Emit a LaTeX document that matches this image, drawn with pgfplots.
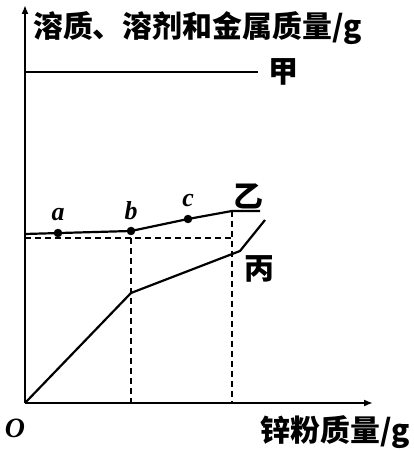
\documentclass[border=0pt]{standalone}
\usepackage{fontspec}
\usepackage{pgfplots}
\pgfplotsset{compat=1.18}
\usetikzlibrary{arrows.meta}
\setmainfont{Liberation Serif}
\newfontfamily\cjk{Noto Sans CJK SC}

\begin{document}
\begin{tikzpicture}[x=1bp,y=1bp]
  \useasboundingbox (-25,-48) rectangle (388,403);
  \begin{axis}[
    x=1bp, y=1bp,
    anchor=origin, at={(0,0)},
    xmin=0, xmax=348, ymin=0, ymax=398,
    axis lines=left,
    axis line style={line width=2bp, -{Latex[length=9bp,width=7bp]}},
    xtick=\empty, ytick=\empty,
    clip=false,
  ]
    % 甲
    \addplot[black, line width=2.2bp] coordinates {(0,331) (233,331)};
    % 乙
    \addplot[black, line width=2.2bp] coordinates {(0,169) (106,172) (163,184) (207,192) (235,192)};
    \addplot[only marks, mark=*, mark size=4bp, black] coordinates {(33,170) (106,172) (163,184)};
    % 丙
    \addplot[black, line width=2.2bp] coordinates {(0,0) (106,110) (215,152) (240,183)};
    % dashed guides
    \addplot[black, line width=1.5bp, dash pattern=on 6bp off 4bp] coordinates {(0,165) (207,165)};
    \addplot[black, line width=1.5bp, dash pattern=on 6bp off 4bp] coordinates {(106,165) (106,0)};
    \addplot[black, line width=1.5bp, dash pattern=on 6bp off 4bp] coordinates {(207,192) (207,0)};
  \end{axis}
  \node[anchor=west, inner sep=0] at (8,375) {\cjk\fontsize{30}{30}\selectfont\bfseries 溶质、溶剂和金属质量/g};
  \node[anchor=east, inner sep=0] at (385,-29) {\cjk\fontsize{30}{30}\selectfont\bfseries 锌粉质量/g};
  \node[inner sep=0] at (258,331) {\cjk\fontsize{30}{30}\selectfont\bfseries 甲};
  \node[inner sep=0] at (223,207) {\cjk\fontsize{30}{30}\selectfont\bfseries 乙};
  \node[inner sep=0] at (234,134) {\cjk\fontsize{30}{30}\selectfont\bfseries 丙};
  \node[inner sep=0] at (-10,-25) {\fontsize{28}{28}\selectfont\itshape\bfseries O};
  \node[inner sep=0] at (33,188) {\fontsize{26}{26}\selectfont\itshape\bfseries a};
  \node[inner sep=0] at (106,192) {\fontsize{26}{26}\selectfont\itshape\bfseries b};
  \node[inner sep=0] at (163,202) {\fontsize{26}{26}\selectfont\itshape\bfseries c};
\end{tikzpicture}
\end{document}
